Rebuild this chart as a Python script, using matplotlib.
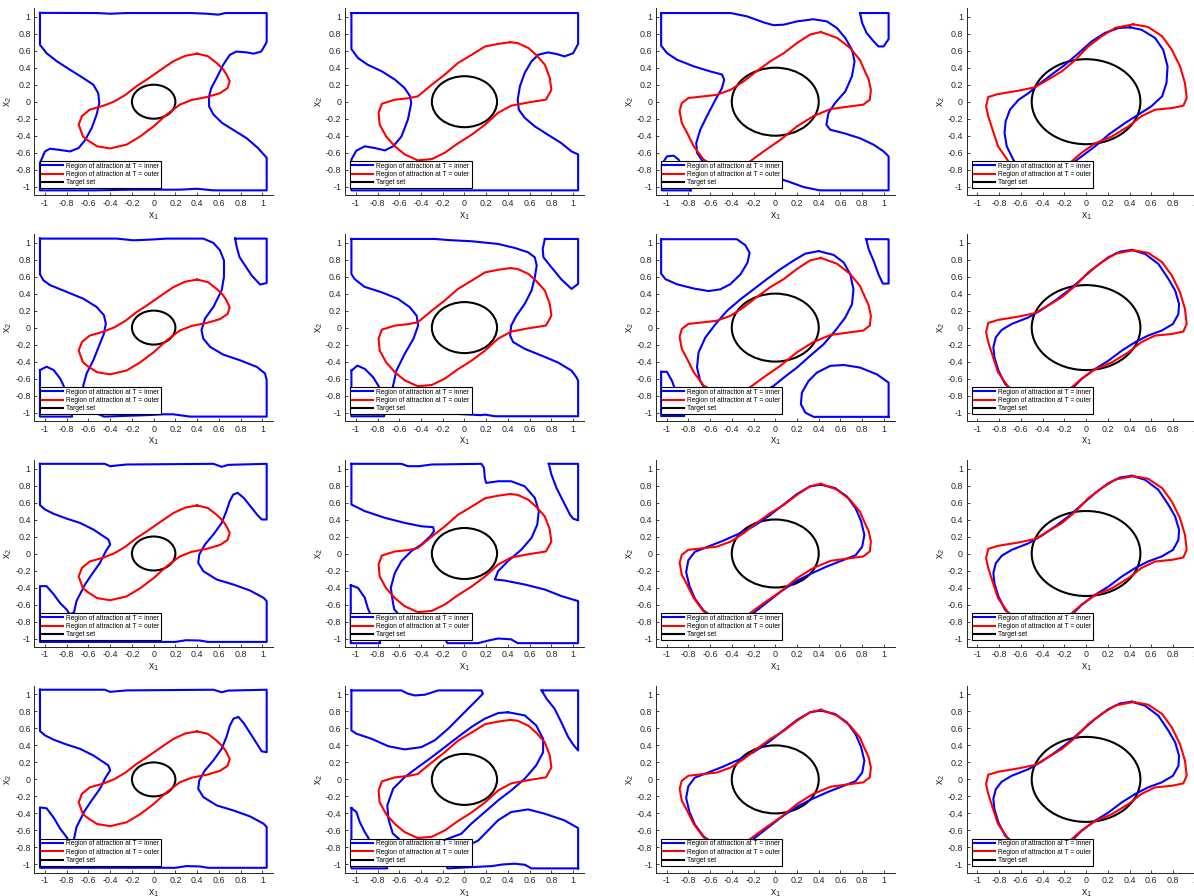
import numpy as np
import matplotlib
matplotlib.use("Agg")
import matplotlib.pyplot as plt
from matplotlib.patches import Circle
from matplotlib.lines import Line2D

plt.rcParams['font.family'] = ['Liberation Sans', 'DejaVu Sans']
plt.rcParams['mathtext.fontset'] = 'custom'
plt.rcParams['mathtext.rm'] = 'Liberation Sans'
plt.rcParams['mathtext.it'] = 'Liberation Sans'

# target set radius per column
target_r = [0.2, 0.3, 0.4, 0.5]

# outer region (same in every row of a column)
red_c1 = [(0.40,0.565),(0.50,0.535),(0.58,0.455),(0.64,0.38),(0.67,0.32),(0.70,0.24),(0.68,0.16),(0.61,0.10),
          (0.49,0.055),(0.35,0.02),(0.24,-0.035),(0.12,-0.15),(0.0,-0.29),(-0.125,-0.41),(-0.25,-0.505),
          (-0.40,-0.55),(-0.52,-0.525),(-0.60,-0.46),(-0.65,-0.41),(-0.69,-0.27),(-0.66,-0.17),(-0.59,-0.095),
          (-0.46,-0.047),(-0.36,0.004),(-0.26,0.08),(-0.16,0.18),(-0.064,0.26),(0.06,0.37),(0.18,0.475),
          (0.29,0.54)]
red_c2 = [(0.42,0.70),(0.49,0.69),(0.59,0.63),(0.66,0.55),(0.74,0.435),(0.785,0.28),(0.80,0.14),
          (0.75,0.024),(0.59,-0.008),(0.43,-0.047),(0.31,-0.13),(0.19,-0.27),(0.064,-0.39),(-0.06,-0.49),
          (-0.18,-0.60),(-0.30,-0.675),(-0.43,-0.69),(-0.55,-0.62),(-0.64,-0.525),(-0.72,-0.41),
          (-0.78,-0.27),(-0.79,-0.13),(-0.76,-0.024),(-0.64,0.024),(-0.52,0.04),(-0.43,0.063),(-0.30,0.2),
          (-0.18,0.32),(-0.06,0.455),(0.064,0.55),(0.19,0.65),(0.31,0.68)]
red_c3 = [(0.42,0.82),(0.57,0.75),(0.69,0.63),(0.78,0.49),(0.81,0.40),(0.86,0.26),(0.88,0.14),
          (0.87,0.024),(0.81,-0.035),(0.69,-0.055),(0.51,-0.086),(0.35,-0.17),(0.20,-0.29),(0.046,-0.45),
          (-0.107,-0.585),(-0.23,-0.70),(-0.32,-0.79),(-0.42,-0.82),(-0.57,-0.75),(-0.66,-0.68),
          (-0.75,-0.525),(-0.81,-0.37),(-0.86,-0.25),(-0.88,-0.11),(-0.86,-0.016),(-0.80,0.043),
          (-0.66,0.063),(-0.54,0.08),(-0.41,0.14),(-0.29,0.24),(-0.17,0.36),(-0.046,0.475),(0.077,0.57),
          (0.20,0.69),(0.32,0.79)]
red_c4 = [(0.435,0.91),(0.57,0.88),(0.70,0.77),(0.79,0.61),(0.865,0.415),(0.91,0.22),(0.926,0.043),
          (0.895,-0.047),(0.79,-0.075),(0.635,-0.094),(0.51,-0.17),(0.39,-0.29),(0.236,-0.41),(0.083,-0.49),
          (-0.04,-0.60),(-0.13,-0.70),(-0.20,-0.80),(-0.27,-0.87),(-0.435,-0.91),(-0.57,-0.88),(-0.715,-0.70),
          (-0.81,-0.525),(-0.85,-0.37),(-0.90,-0.17),(-0.92,-0.055),(-0.90,0.055),(-0.81,0.09),(-0.62,0.13),
          (-0.47,0.17),(-0.35,0.26),(-0.22,0.36),(-0.10,0.49),(0.02,0.65),(0.144,0.77),(0.27,0.87)]
outer = [red_c1, red_c2, red_c3, red_c4]

# inner regions, one list of closed pieces per panel
blue_r1c1 = [[(-1.046,1.045),(-0.52,1.043),(-0.40,1.035),(-0.25,1.043),(0.35,1.043),(0.49,1.035),(0.595,1.024),
              (0.66,1.043),(1.04,1.043),(1.04,0.70),(0.99,0.59),(0.92,0.565),(0.856,0.58),(0.76,0.59),(0.70,0.55),
              (0.64,0.435),(0.58,0.28),(0.53,0.16),(0.51,0.063),(0.51,-0.055),(0.55,-0.15),(0.63,-0.25),
              (0.73,-0.33),(0.856,-0.43),(0.96,-0.545),(1.04,-0.66),(1.04,-1.043),(0.55,-1.043),(0.40,-1.024),
              (0.24,-1.035),(-0.19,-1.035),(-0.55,-1.043),(-1.046,-1.043),(-1.046,-0.72),(-1.0,-0.585),
              (-0.954,-0.553),(-0.877,-0.565),(-0.77,-0.585),(-0.69,-0.545),(-0.63,-0.45),(-0.57,-0.31),
              (-0.525,-0.153),(-0.50,-0.016),(-0.51,0.10),(-0.555,0.20),(-0.65,0.28),(-0.77,0.376),
              (-0.89,0.475),(-0.985,0.57),(-1.046,0.67)]]
blue_r1c2 = [[(-1.04,1.043),(1.046,1.043),(1.046,0.68),(1.0,0.57),(0.92,0.533),(0.85,0.56),(0.77,0.58),
              (0.68,0.553),(0.617,0.475),(0.555,0.34),(0.51,0.18),(0.49,0.024),(0.50,-0.094),(0.555,-0.19),
              (0.647,-0.29),(0.77,-0.39),(0.89,-0.486),(0.985,-0.585),(1.046,-0.62),(1.046,-1.043),
              (-1.04,-1.043),(-1.04,-0.68),(-0.995,-0.576),(-0.917,-0.525),(-0.825,-0.545),(-0.733,-0.573),
              (-0.656,-0.525),(-0.58,-0.41),(-0.52,-0.21),(-0.49,-0.016),(-0.50,0.063),(-0.55,0.16),
              (-0.64,0.26),(-0.76,0.357),(-0.89,0.435),(-0.98,0.514),(-1.04,0.62)]]
blue_r1c3 = [[(-1.05,1.043),(-0.41,1.043),(-0.26,1.004),(-0.107,0.933),(-0.015,0.90),(0.077,0.906),
              (0.20,0.945),(0.35,0.97),(0.475,0.945),(0.567,0.867),(0.644,0.75),(0.706,0.61),(0.73,0.475),
              (0.706,0.30),(0.644,0.12),(0.55,-0.016),(0.49,-0.133),(0.47,-0.27),(0.506,-0.33),(0.63,-0.37),
              (0.78,-0.43),(0.905,-0.506),(0.997,-0.585),(1.043,-0.643),(1.043,-1.043),(0.41,-1.043),
              (0.26,-1.004),(0.107,-0.933),(0.015,-0.90),(-0.077,-0.906),(-0.20,-0.945),(-0.35,-0.97),
              (-0.475,-0.945),(-0.567,-0.867),(-0.644,-0.75),(-0.72,-0.60),(-0.727,-0.486),(-0.69,-0.33),
              (-0.63,-0.173),(-0.55,0.024),(-0.49,0.16),(-0.47,0.26),(-0.49,0.32),(-0.60,0.357),(-0.75,0.416),
              (-0.905,0.494),(-0.997,0.573),(-1.05,0.66)],
             [(0.78,1.043),(0.80,0.925),(0.84,0.81),(0.905,0.71),(0.95,0.65),(0.997,0.65),(1.043,0.737),(1.043,1.043)],
             [(-0.78,-1.043),(-0.80,-0.925),(-0.84,-0.81),(-0.89,-0.68),(-0.935,-0.635),(-0.997,-0.643),
              (-1.043,-0.737),(-1.043,-1.043)]]
blue_r1c4 = [[(0.405,0.875),(0.51,0.847),(0.635,0.75),(0.71,0.61),(0.75,0.415),(0.74,0.22),(0.70,0.063),
              (0.60,-0.055),(0.48,-0.153),(0.36,-0.25),(0.205,-0.39),(0.083,-0.525),(-0.04,-0.643),(-0.10,-0.70),
              (-0.175,-0.81),(-0.30,-0.867),(-0.405,-0.875),(-0.51,-0.847),(-0.635,-0.75),(-0.67,-0.68),
              (-0.73,-0.525),(-0.75,-0.37),(-0.74,-0.23),(-0.70,-0.094),(-0.62,0.024),(-0.53,0.10),(-0.44,0.20),
              (-0.316,0.32),(-0.193,0.435),(-0.07,0.57),(0.052,0.71),(0.175,0.81),(0.30,0.867)]]

blue_r2c1 = [[(-1.046,1.047),(-0.34,1.047),(-0.187,1.027),(-0.034,1.035),(0.12,1.047),(0.457,1.047),
              (0.55,0.996),(0.61,0.91),(0.647,0.79),(0.647,0.596),(0.626,0.44),(0.55,0.243),(0.472,0.106),
              (0.44,-0.03),(0.457,-0.13),(0.52,-0.227),(0.64,-0.318),(0.794,-0.384),(0.95,-0.463),(1.025,-0.54),
              (1.04,-0.62),(1.04,-1.047),(0.334,-1.047),(0.18,-1.02),(0.09,-1.02),(-0.064,-1.03),(-0.457,-1.047),
              (-0.55,-0.996),(-0.61,-0.91),(-0.647,-0.79),(-0.647,-0.68),(-0.617,-0.54),(-0.555,-0.384),
              (-0.494,-0.188),(-0.457,-0.07),(-0.44,0.047),(-0.457,0.145),(-0.525,0.243),(-0.647,0.34),
              (-0.80,0.42),(-0.954,0.50),(-1.015,0.557),(-1.046,0.627)],
             [(0.75,1.047),(0.764,0.95),(0.79,0.83),(0.84,0.733),(0.90,0.616),(0.98,0.506),(1.04,0.525),(1.04,1.047)],
             [(-1.046,-0.50),(-0.985,-0.46),(-0.92,-0.50),(-0.86,-0.60),(-0.83,-0.68),(-0.79,-0.83),
              (-0.764,-0.95),(-0.75,-1.047),(-1.046,-1.047)]]
blue_r2c2 = [[(-1.04,1.043),(-0.273,1.043),(-0.15,1.03),(0.064,1.016),(0.31,0.984),(0.463,0.937),(0.586,0.886),
              (0.647,0.827),(0.665,0.73),(0.647,0.59),(0.617,0.435),(0.555,0.28),(0.478,0.14),(0.43,0.024),
              (0.42,-0.094),(0.448,-0.17),(0.555,-0.25),(0.71,-0.33),(0.86,-0.41),(0.985,-0.506),(1.03,-0.584),
              (1.046,-0.624),(1.046,-1.043),(0.28,-1.043),(0.19,-1.024),(0.15,-1.03),(-0.064,-1.016),
              (-0.31,-0.984),(-0.463,-0.937),(-0.586,-0.886),(-0.647,-0.827),(-0.665,-0.73),(-0.656,-0.68),
              (-0.626,-0.506),(-0.55,-0.31),(-0.47,-0.133),(-0.426,0.024),(-0.44,0.14),(-0.503,0.24),
              (-0.61,0.337),(-0.764,0.416),(-0.92,0.48),(-1.01,0.57),(-1.04,0.63)],
             [(0.74,1.043),(0.72,0.925),(0.727,0.827),(0.80,0.71),(0.89,0.57),(0.985,0.455),(1.046,0.514),(1.046,1.043)],
             [(-1.04,-0.506),(-0.985,-0.447),(-0.917,-0.486),(-0.84,-0.584),(-0.794,-0.68),(-0.727,-0.827),
              (-0.72,-0.925),(-0.74,-1.043),(-1.04,-1.043)]]
blue_r2c3 = [[(0.40,0.90),(0.537,0.855),(0.63,0.765),(0.69,0.627),(0.72,0.45),(0.706,0.275),(0.644,0.118),
              (0.55,-0.04),(0.445,-0.196),(0.32,-0.333),(0.20,-0.47),(0.077,-0.59),(-0.015,-0.686),(-0.17,-0.79),
              (-0.276,-0.87),(-0.40,-0.90),(-0.537,-0.855),(-0.63,-0.765),(-0.69,-0.627),(-0.72,-0.47),
              (-0.706,-0.294),(-0.644,-0.118),(-0.55,0.04),(-0.445,0.196),(-0.32,0.333),(-0.20,0.45),
              (-0.077,0.57),(0.046,0.686),(0.17,0.79),(0.276,0.87)],
             [(-1.05,1.04),(-0.353,1.04),(-0.276,0.97),(-0.236,0.88),(-0.255,0.765),(-0.32,0.627),(-0.414,0.51),
              (-0.506,0.45),(-0.613,0.43),(-0.75,0.46),(-0.905,0.51),(-1.01,0.57),(-1.05,0.635)],
             [(1.043,-1.05),(0.353,-1.05),(0.276,-1.0),(0.236,-0.90),(0.245,-0.765),(0.307,-0.627),(0.383,-0.53),
              (0.506,-0.45),(0.63,-0.44),(0.78,-0.47),(0.935,-0.55),(1.043,-0.647)],
             [(0.837,1.04),(0.86,0.92),(0.905,0.785),(0.95,0.627),(0.99,0.518),(1.043,0.518),(1.043,1.04)],
             [(-1.05,-0.52),(-0.997,-0.52),(-0.95,-0.627),(-0.905,-0.785),(-0.86,-0.92),(-0.837,-1.04),(-1.05,-1.04)]]
blue_r2c4 = [[(0.42,0.914),(0.543,0.867),(0.665,0.75),(0.758,0.573),(0.82,0.435),(0.856,0.278),(0.85,0.16),
              (0.80,0.043),(0.696,-0.035),(0.57,-0.094),(0.45,-0.173),(0.33,-0.27),(0.205,-0.39),(0.083,-0.486),
              (-0.04,-0.604),(-0.10,-0.68),(-0.205,-0.827),(-0.313,-0.894),(-0.42,-0.914),(-0.543,-0.867),
              (-0.665,-0.75),(-0.745,-0.663),(-0.806,-0.506),(-0.843,-0.35),(-0.853,-0.23),(-0.83,-0.114),
              (-0.776,-0.027),(-0.684,0.043),(-0.53,0.12),(-0.41,0.208),(-0.285,0.318),(-0.163,0.435),
              (-0.04,0.573),(0.083,0.71),(0.205,0.827),(0.313,0.894)]]

blue_r3c1 = [[(-1.046,1.055),(-0.45,1.055),(-0.40,1.027),(-0.25,1.047),(0.55,1.055),(0.626,1.02),(0.687,1.043),
              (1.04,1.055),(1.04,0.40),(0.994,0.40),(0.95,0.46),(0.89,0.557),(0.828,0.655),(0.773,0.714),
              (0.733,0.694),(0.70,0.616),(0.67,0.50),(0.626,0.36),(0.55,0.224),(0.472,0.106),(0.42,-0.012),
              (0.41,-0.11),(0.457,-0.208),(0.58,-0.306),(0.733,-0.365),(0.886,-0.435),(1.01,-0.52),(1.04,-0.56),
              (1.04,-1.04),(0.50,-1.04),(0.426,-1.024),(0.30,-1.02),(0.20,-1.04),(-1.046,-1.04),(-1.046,-0.384),
              (-0.985,-0.384),(-0.92,-0.48),(-0.86,-0.584),(-0.80,-0.66),(-0.773,-0.714),(-0.733,-0.694),
              (-0.71,-0.56),(-0.632,-0.365),(-0.57,-0.247),(-0.494,-0.11),(-0.44,0.027),(-0.40,0.106),
              (-0.417,0.165),(-0.463,0.204),(-0.555,0.282),(-0.678,0.36),(-0.80,0.41),(-0.92,0.467),
              (-1.0,0.518),(-1.046,0.569)]]
blue_r3c2 = [[(-1.04,1.055),(-0.58,1.055),(-0.52,1.027),(-0.42,1.027),(-0.30,1.047),(0.156,1.055),(0.18,1.008),
              (0.187,0.89),(0.20,0.83),(0.31,0.85),(0.43,0.85),(0.555,0.79),(0.647,0.655),(0.684,0.50),
              (0.67,0.34),(0.617,0.184),(0.525,0.047),(0.40,-0.09),(0.31,-0.208),(0.28,-0.306),(0.37,-0.318),
              (0.555,-0.365),(0.74,-0.424),(0.89,-0.50),(1.046,-0.56),(1.046,-1.055),(0.49,-1.055),(0.43,-1.01),
              (0.31,-1.0),(0.22,-1.024),(0.126,-1.055),(-0.156,-1.055),(-0.18,-1.008),(-0.187,-0.89),
              (-0.20,-0.83),(-0.31,-0.85),(-0.43,-0.85),(-0.555,-0.79),(-0.647,-0.655),(-0.66,-0.56),
              (-0.678,-0.404),(-0.64,-0.227),(-0.58,-0.09),(-0.49,0.027),(-0.396,0.106),(-0.31,0.208),
              (-0.28,0.263),(-0.288,0.31),(-0.396,0.32),(-0.55,0.36),(-0.733,0.42),(-0.92,0.50),(-1.04,0.576)],
             [(0.776,1.055),(0.80,0.93),(0.847,0.77),(0.908,0.616),(0.97,0.46),(1.0,0.41),(1.046,0.39),(1.046,1.055)],
             [(-1.046,-0.373),(-0.98,-0.404),(-0.917,-0.52),(-0.89,-0.64),(-0.847,-0.77),(-0.80,-0.93),
              (-0.776,-1.055),(-1.046,-1.055)]]
blue_r3c3 = [[(0.42,0.81),(0.55,0.77),(0.66,0.67),(0.74,0.53),(0.79,0.38),(0.82,0.22),(0.80,0.08),(0.74,-0.02),
              (0.62,-0.08),(0.48,-0.15),(0.34,-0.23),(0.20,-0.32),(0.06,-0.44),(-0.06,-0.56),(-0.20,-0.70),
              (-0.32,-0.79),(-0.42,-0.81),(-0.55,-0.77),(-0.66,-0.67),(-0.74,-0.53),(-0.79,-0.38),(-0.82,-0.22),
              (-0.80,-0.08),(-0.74,0.02),(-0.62,0.08),(-0.48,0.15),(-0.34,0.23),(-0.20,0.32),(-0.06,0.44),
              (0.06,0.56),(0.20,0.70),(0.32,0.79)]]

blue_r4c1 = [[(-1.046,1.055),(-0.45,1.055),(-0.40,1.03),(-0.25,1.047),(0.55,1.055),(0.626,1.025),(0.687,1.045),
              (1.04,1.055),(1.04,0.32),(0.994,0.33),(0.95,0.42),(0.89,0.54),(0.83,0.66),(0.78,0.735),
              (0.735,0.715),(0.70,0.63),(0.67,0.50),(0.626,0.36),(0.55,0.224),(0.472,0.106),(0.42,-0.012),
              (0.41,-0.11),(0.457,-0.208),(0.58,-0.306),(0.733,-0.365),(0.886,-0.435),(1.01,-0.52),(1.04,-0.56),
              (1.04,-1.04),(0.50,-1.04),(0.426,-1.024),(0.30,-1.02),(0.20,-1.04),(-1.046,-1.04),(-1.046,-0.33),
              (-0.985,-0.34),(-0.92,-0.45),(-0.86,-0.58),(-0.80,-0.68),(-0.78,-0.735),(-0.735,-0.715),
              (-0.71,-0.56),(-0.632,-0.365),(-0.57,-0.247),(-0.494,-0.11),(-0.44,0.027),(-0.40,0.106),
              (-0.417,0.165),(-0.463,0.204),(-0.555,0.282),(-0.678,0.36),(-0.80,0.41),(-0.92,0.467),
              (-1.0,0.518),(-1.046,0.569)]]
blue_r4c2 = [[(0.40,0.79),(0.555,0.753),(0.66,0.635),(0.724,0.478),(0.724,0.32),(0.66,0.165),(0.555,0.008),
              (0.43,-0.13),(0.31,-0.247),(0.187,-0.384),(0.064,-0.52),(-0.03,-0.64),(-0.187,-0.714),
              (-0.31,-0.78),(-0.40,-0.79),(-0.555,-0.753),(-0.66,-0.635),(-0.70,-0.463),(-0.71,-0.306),
              (-0.656,-0.11),(-0.55,0.027),(-0.426,0.145),(-0.30,0.263),(-0.18,0.38),(-0.058,0.50),
              (0.064,0.616),(0.187,0.714),(0.31,0.78)],
             [(-1.04,1.047),(-0.58,1.047),(-0.52,1.008),(-0.457,0.988),(-0.365,0.996),(-0.24,1.047),(0.156,1.047),
              (0.17,1.008),(0.095,0.91),(-0.028,0.753),(-0.15,0.596),(-0.273,0.46),(-0.396,0.38),(-0.55,0.353),
              (-0.70,0.39),(-0.855,0.478),(-0.994,0.537),(-1.04,0.576)],
             [(1.046,-1.047),(0.617,-1.047),(0.555,-1.004),(0.463,-0.992),(0.356,-1.0),(0.25,-1.02),(-0.156,-1.047),
              (-0.17,-1.008),(-0.095,-0.91),(0.028,-0.78),(0.126,-0.72),(0.31,-0.48),(0.43,-0.384),(0.586,-0.353),
              (0.74,-0.404),(0.92,-0.482),(1.046,-0.573)],
             [(0.71,1.047),(0.755,0.95),(0.83,0.83),(0.89,0.675),(0.954,0.50),(1.0,0.41),(1.046,0.34),(1.046,1.047)],
             [(-1.04,-0.337),(-0.994,-0.384),(-0.964,-0.50),(-0.917,-0.62),(-0.89,-0.675),(-0.83,-0.83),
              (-0.755,-0.95),(-0.71,-1.047),(-1.04,-1.047)]]
blue_r4c3 = blue_r3c3

inner = [[blue_r1c1, blue_r1c2, blue_r1c3, blue_r1c4],
         [blue_r2c1, blue_r2c2, blue_r2c3, blue_r2c4],
         [blue_r3c1, blue_r3c2, blue_r3c3, blue_r2c4],
         [blue_r4c1, blue_r4c2, blue_r4c3, blue_r2c4]]

ticks = [-1, -0.8, -0.6, -0.4, -0.2, 0, 0.2, 0.4, 0.6, 0.8, 1]
tick_labels = ['-1', '-0.8', '-0.6', '-0.4', '-0.2', '0', '0.2', '0.4', '0.6', '0.8', '1']
legend_labels = ['Region of attraction at T = inner', 'Region of attraction at T = outer', 'Target set']

W, H = 1194, 896
LW = 1.5
axcol = '#262626'


def closed(pts):
    a = np.array(pts)
    return np.vstack([a, a[:1]])


fig = plt.figure(figsize=(W / 100, H / 100), dpi=100)
for r in range(4):
    for c in range(4):
        left = 34.1 + 310.8 * c
        top = 8.2 + 225.9 * r
        ax = fig.add_axes([left / W, 1 - (top + 187) / H, 239.1 / W, 187 / H])
        for piece in inner[r][c]:
            p = closed(piece)
            ax.plot(p[:, 0], p[:, 1], color='#0000ff', lw=LW, solid_joinstyle='round')
        p = closed(outer[c])
        ax.plot(p[:, 0], p[:, 1], color='#ff0000', lw=LW, solid_joinstyle='round')
        ax.add_patch(Circle((0, 0), target_r[c], fill=False, ec='black', lw=LW))

        ax.set_xlim(-1.1, 1.1)
        ax.set_ylim(-1.1, 1.1)
        ax.set_xticks(ticks)
        ax.set_xticklabels(tick_labels)
        ax.set_yticks(ticks)
        ax.set_yticklabels(tick_labels)
        ax.tick_params(direction='in', length=2.5, width=0.6, labelsize=6.4, colors=axcol, pad=2.5)
        for s in ('top', 'right'):
            ax.spines[s].set_visible(False)
        for s in ('left', 'bottom'):
            ax.spines[s].set_color(axcol)
            ax.spines[s].set_linewidth(0.7)
        ax.set_xlabel('$x_1$', fontsize=7.5, color=axcol, labelpad=1.5)
        ax.set_ylabel('$x_2$', fontsize=7.5, color=axcol, labelpad=0.5)

        handles = [Line2D([], [], color='#0000ff', lw=LW),
                   Line2D([], [], color='#ff0000', lw=LW),
                   Line2D([], [], color='black', lw=LW)]
        leg = ax.legend(handles, legend_labels, loc='lower left', bbox_to_anchor=(-1.05, -1.02),
                        bbox_transform=ax.transData, borderaxespad=0, fontsize=4.75, handlelength=3.2,
                        handletextpad=0.45, labelspacing=0.2, borderpad=0.3, fancybox=False,
                        framealpha=1, edgecolor='black')
        leg.get_frame().set_linewidth(0.8)

fig.savefig('out.png', dpi=100)
